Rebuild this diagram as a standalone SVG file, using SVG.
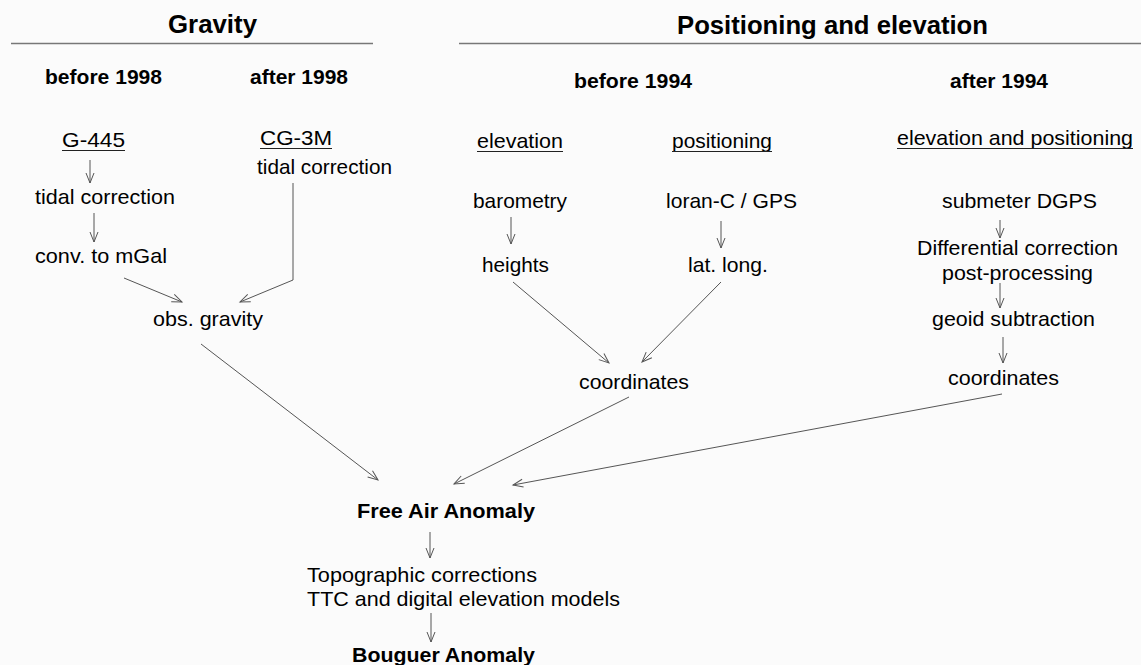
<svg xmlns="http://www.w3.org/2000/svg" width="1141" height="665" viewBox="0 0 1141 665">
<style>
text{font-family:"Liberation Sans",Arial,sans-serif;font-size:21px;fill:#000}
.t{font-size:25.5px;font-weight:bold}
.h{font-weight:bold}
.rule{stroke:#777;stroke-width:1.3}
.ul{stroke:#222;stroke-width:1}
.c{fill:none;stroke:#555;stroke-width:1;marker-end:url(#ah)}
</style>
<defs>
<marker id="ah" markerUnits="userSpaceOnUse" markerWidth="14" markerHeight="12" viewBox="-12 -6 14 12" refX="0" refY="0" orient="auto">
<path d="M-10,-4 L0,0 L-10,4" fill="none" stroke="#555" stroke-width="1"/>
</marker>
</defs>
<rect width="1141" height="665" fill="#fbfbfb"/>
<g id="headers">
<text class="t" x="168" y="33" textLength="89" lengthAdjust="spacingAndGlyphs">Gravity</text>
<line class="rule" x1="11" y1="43.5" x2="373" y2="43.5"/>
<text class="t" x="677" y="34" textLength="311" lengthAdjust="spacingAndGlyphs">Positioning and elevation</text>
<line class="rule" x1="459" y1="43.5" x2="1141" y2="43.5"/>
<text class="h" x="45" y="84" textLength="117" lengthAdjust="spacingAndGlyphs">before 1998</text>
<text class="h" x="250" y="84" textLength="98" lengthAdjust="spacingAndGlyphs">after 1998</text>
<text class="h" x="574" y="88" textLength="118" lengthAdjust="spacingAndGlyphs">before 1994</text>
<text class="h" x="950" y="88" textLength="98" lengthAdjust="spacingAndGlyphs">after 1994</text>
</g>
<g id="n-g445"><text x="62" y="147" textLength="63" lengthAdjust="spacingAndGlyphs">G-445</text><line class="ul" x1="62" y1="150.5" x2="125" y2="150.5"/></g>
<g id="n-cg3m"><text x="260" y="145" textLength="72" lengthAdjust="spacingAndGlyphs">CG-3M</text><line class="ul" x1="260" y1="148.5" x2="332" y2="148.5"/></g>
<g id="n-tidal-r"><text x="257" y="174" textLength="135" lengthAdjust="spacingAndGlyphs">tidal correction</text></g>
<g id="n-tidal-l"><text x="35" y="204" textLength="140" lengthAdjust="spacingAndGlyphs">tidal correction</text></g>
<g id="n-conv"><text x="35" y="263" textLength="132" lengthAdjust="spacingAndGlyphs">conv. to mGal</text></g>
<g id="n-obs"><text x="153" y="326" textLength="110" lengthAdjust="spacingAndGlyphs">obs. gravity</text></g>
<g id="n-elev"><text x="477" y="148" textLength="86" lengthAdjust="spacingAndGlyphs">elevation</text><line class="ul" x1="477" y1="151.5" x2="563" y2="151.5"/></g>
<g id="n-pos"><text x="672" y="148" textLength="100" lengthAdjust="spacingAndGlyphs">positioning</text><line class="ul" x1="672" y1="151.5" x2="772" y2="151.5"/></g>
<g id="n-elevpos"><text x="897" y="145" textLength="236" lengthAdjust="spacingAndGlyphs">elevation and positioning</text><line class="ul" x1="897" y1="148.5" x2="1133" y2="148.5"/></g>
<g id="n-baro"><text x="473" y="208" textLength="94" lengthAdjust="spacingAndGlyphs">barometry</text></g>
<g id="n-loran"><text x="666" y="208" textLength="131" lengthAdjust="spacingAndGlyphs">loran-C / GPS</text></g>
<g id="n-dgps"><text x="942" y="208" textLength="155" lengthAdjust="spacingAndGlyphs">submeter DGPS</text></g>
<g id="n-heights"><text x="482" y="272" textLength="67" lengthAdjust="spacingAndGlyphs">heights</text></g>
<g id="n-latlong"><text x="688" y="272" textLength="80" lengthAdjust="spacingAndGlyphs">lat. long.</text></g>
<g id="n-diff"><text x="917" y="255" textLength="201" lengthAdjust="spacingAndGlyphs">Differential correction</text><text x="942" y="280" textLength="151" lengthAdjust="spacingAndGlyphs">post-processing</text></g>
<g id="n-geoid"><text x="932" y="326" textLength="163" lengthAdjust="spacingAndGlyphs">geoid subtraction</text></g>
<g id="n-coord-l"><text x="579" y="389" textLength="110" lengthAdjust="spacingAndGlyphs">coordinates</text></g>
<g id="n-coord-r"><text x="948" y="385" textLength="111" lengthAdjust="spacingAndGlyphs">coordinates</text></g>
<g id="n-faa"><text class="h" x="357" y="518" textLength="178" lengthAdjust="spacingAndGlyphs">Free Air Anomaly</text></g>
<g id="n-topo"><text x="307" y="582" textLength="230" lengthAdjust="spacingAndGlyphs">Topographic corrections</text><text x="307" y="606" textLength="313" lengthAdjust="spacingAndGlyphs">TTC and digital elevation models</text></g>
<g id="n-bouguer"><text class="h" x="352" y="662" textLength="183" lengthAdjust="spacingAndGlyphs">Bouguer Anomaly</text></g>
<g id="connectors">
<path class="c" d="M90,160 V183"/>
<path class="c" d="M94,213 V242"/>
<path class="c" d="M124,278 L182,302"/>
<path class="c" d="M293,183 V280 L240,302"/>
<path class="c" d="M201,344 L378,480"/>
<path class="c" d="M511,217 V244"/>
<path class="c" d="M721,221 V248"/>
<path class="c" d="M513,282 L609,363"/>
<path class="c" d="M721,282 L642,362"/>
<path class="c" d="M629,397 L454,484"/>
<path class="c" d="M1000,220 V238"/>
<path class="c" d="M1000,283 V308"/>
<path class="c" d="M1003,337 V363"/>
<path class="c" d="M1002,394 L513,485"/>
<path class="c" d="M430,532 V558"/>
<path class="c" d="M431,613 V642"/>
</g>
</svg>
